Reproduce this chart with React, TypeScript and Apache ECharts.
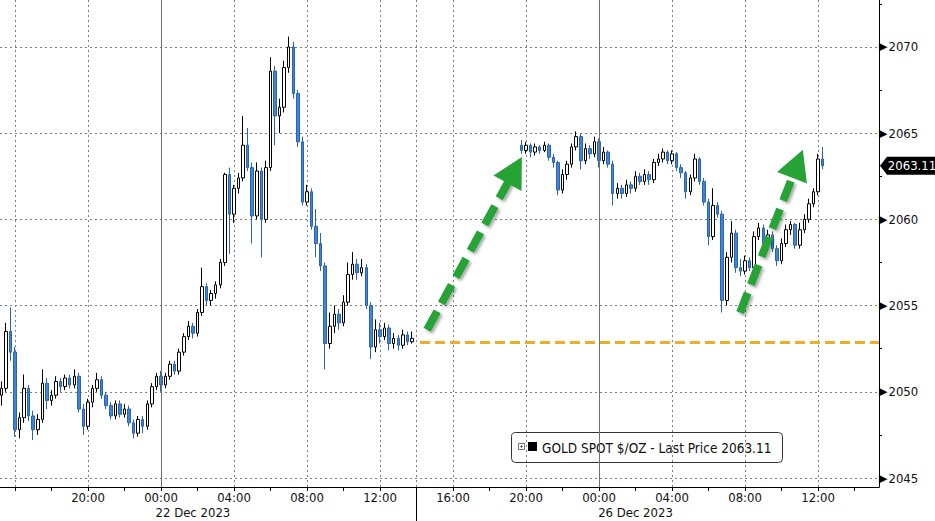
import React, { useEffect, useRef } from "react";
import * as echarts from "echarts";

// ---- time layout (virtual hours from 00:00 22 Dec; 26 Dec session shown after a 3-day jump) ----
const SEG1_START = -8.75; // 15:15 21 Dec
const SEG2_START = 19.75; // 19:45 (day before 26 Dec, after the holiday break)
const BAR_HOURS = 0.25;
const X_MIN = -8.82;
const X_MAX = 39.34;
const Y_MIN = 2044.48;
const Y_MAX = 2072.72;

// [open, high, low, close]
const seg1: number[][] = [
  [2049.8, 2050.6, 2049.2, 2050.2],
  [2050.2, 2054.0, 2050.0, 2053.5],
  [2053.5, 2054.9, 2051.8, 2052.3],
  [2052.3, 2052.6, 2047.4, 2047.8],
  [2047.8, 2048.8, 2047.3, 2048.5],
  [2048.5, 2051.0, 2048.2, 2050.2],
  [2050.2, 2050.4, 2048.3, 2048.6],
  [2048.6, 2048.9, 2047.2, 2047.8],
  [2047.8, 2048.7, 2047.5, 2048.4],
  [2048.4, 2051.3, 2048.2, 2050.5],
  [2050.5, 2050.8, 2049.0, 2049.5],
  [2049.5, 2050.1, 2049.2, 2049.8],
  [2049.8, 2050.9, 2049.6, 2050.6],
  [2050.6, 2050.8, 2050.0, 2050.3],
  [2050.3, 2051.0, 2050.1, 2050.8],
  [2050.8, 2051.0, 2050.2, 2050.4],
  [2050.4, 2051.3, 2050.2, 2050.9],
  [2050.9, 2051.1, 2048.8, 2049.0],
  [2049.0, 2049.3, 2047.5, 2048.0],
  [2048.0, 2049.6, 2047.8, 2049.4],
  [2049.4, 2050.4, 2049.1, 2050.2],
  [2050.2, 2051.1, 2050.0, 2050.7],
  [2050.7, 2050.9, 2049.6, 2049.8],
  [2049.8, 2050.0, 2049.0, 2049.2],
  [2049.2, 2049.4, 2048.4, 2048.6],
  [2048.6, 2049.5, 2048.4, 2049.3],
  [2049.3, 2049.5, 2048.5, 2048.7],
  [2048.7, 2049.3, 2048.5, 2049.0],
  [2049.0, 2049.2, 2048.0, 2048.2],
  [2048.2, 2048.4, 2047.3, 2047.6],
  [2047.6, 2048.6, 2047.4, 2048.4],
  [2048.4, 2048.6, 2047.6, 2048.0],
  [2048.0, 2049.5, 2047.8, 2049.3],
  [2049.3, 2050.5, 2049.1, 2050.3],
  [2050.3, 2051.1, 2050.1, 2050.9],
  [2050.9, 2051.2, 2050.0, 2050.4],
  [2050.4, 2051.1, 2050.2, 2050.9],
  [2050.9, 2051.8, 2050.7, 2051.6],
  [2051.6, 2051.8, 2051.0, 2051.2],
  [2051.2, 2052.5, 2051.0, 2052.3],
  [2052.3, 2053.4, 2052.1, 2053.2],
  [2053.2, 2054.1, 2053.0, 2053.8],
  [2053.8, 2054.0, 2053.1, 2053.4],
  [2053.4, 2054.8, 2053.2, 2054.6],
  [2054.6, 2057.2, 2054.4, 2056.1],
  [2056.1, 2056.3, 2055.0, 2055.3],
  [2055.3, 2055.9, 2055.0, 2055.7],
  [2055.7, 2056.4, 2055.4, 2056.2],
  [2056.2, 2057.7, 2056.0, 2057.5],
  [2057.5, 2062.7, 2057.3, 2062.6],
  [2062.6, 2063.0, 2058.0, 2060.3],
  [2060.3, 2062.0, 2059.8, 2061.8],
  [2061.8, 2062.7, 2061.5, 2062.4],
  [2062.4, 2066.0, 2062.2, 2064.3],
  [2064.3, 2065.3, 2062.8, 2063.0],
  [2063.0, 2063.3, 2058.6, 2060.2],
  [2060.2, 2063.3, 2060.0, 2062.8],
  [2062.8, 2063.0, 2057.8, 2060.0],
  [2060.0, 2063.4, 2059.8, 2063.0],
  [2063.0, 2069.4, 2062.8, 2068.6],
  [2068.6, 2068.9, 2064.3, 2066.0],
  [2066.0, 2067.0, 2065.0, 2066.5],
  [2066.5, 2069.2, 2066.2, 2068.8],
  [2068.8, 2070.6, 2068.5, 2070.0],
  [2070.0, 2070.3, 2067.0, 2067.3],
  [2067.3, 2067.5, 2064.2, 2064.5],
  [2064.5, 2064.8, 2060.8, 2061.0],
  [2061.0, 2062.0, 2060.8, 2061.6],
  [2061.6, 2061.8, 2059.4, 2059.6],
  [2059.6, 2060.6, 2057.8, 2058.6],
  [2058.6, 2059.2, 2057.0, 2057.3],
  [2057.3, 2057.5, 2051.3, 2052.8],
  [2052.8, 2054.6, 2052.5, 2053.8],
  [2053.8, 2055.0, 2053.4, 2054.5],
  [2054.5, 2054.8, 2053.6, 2054.0],
  [2054.0, 2055.6, 2053.8, 2055.2],
  [2055.2, 2057.5, 2055.0, 2056.8],
  [2056.8, 2058.1, 2056.5, 2057.4],
  [2057.4, 2057.7, 2056.5, 2056.9],
  [2056.9, 2057.7, 2056.7, 2057.2],
  [2057.2, 2057.4, 2054.8, 2055.0],
  [2055.0, 2055.2, 2051.9, 2052.6],
  [2052.6, 2054.2, 2052.3, 2053.6],
  [2053.6, 2054.0, 2052.8, 2053.2],
  [2053.2, 2054.0, 2053.0, 2053.7],
  [2053.7, 2053.9, 2052.4, 2052.8],
  [2052.8, 2053.4, 2052.5, 2053.1],
  [2053.1, 2053.3, 2052.4, 2052.7],
  [2052.7, 2053.6, 2052.5, 2053.3],
  [2053.3, 2053.5, 2052.7, 2052.9],
  [2052.9, 2053.5, 2052.8, 2053.1],
];

const seg2: number[][] = [
  [2064.3, 2064.6, 2063.8, 2064.0],
  [2064.0, 2064.5, 2063.8, 2064.3],
  [2064.3, 2064.4, 2063.6, 2063.9],
  [2063.9, 2064.4, 2063.7, 2064.2],
  [2064.2, 2064.3, 2063.8, 2064.0],
  [2064.0, 2064.5, 2063.9, 2064.3],
  [2064.3, 2064.4, 2063.4, 2063.6],
  [2063.6, 2063.8, 2063.0, 2063.3],
  [2063.3, 2063.4, 2061.4, 2061.7],
  [2061.7, 2062.9, 2061.5, 2062.6],
  [2062.6, 2063.4, 2062.3, 2063.2],
  [2063.2, 2064.4, 2063.0, 2064.2],
  [2064.2, 2065.1, 2064.0, 2064.8],
  [2064.8, 2065.0, 2062.9, 2063.4],
  [2063.4, 2064.4, 2063.2, 2064.1],
  [2064.1, 2064.3, 2063.5, 2063.8],
  [2063.8, 2064.8, 2063.6, 2064.5],
  [2064.5, 2064.7, 2063.0, 2063.4],
  [2063.4, 2064.2, 2063.2, 2063.9],
  [2063.9, 2064.0, 2063.0, 2063.2],
  [2063.2, 2063.4, 2060.8, 2061.5],
  [2061.5, 2062.1, 2061.2, 2061.8],
  [2061.8, 2062.0, 2061.2, 2061.5],
  [2061.5, 2062.3, 2061.3, 2062.0],
  [2062.0, 2062.2, 2061.5, 2061.8],
  [2061.8, 2062.8, 2061.6, 2062.5],
  [2062.5, 2062.7, 2062.0, 2062.2],
  [2062.2, 2062.9, 2062.0, 2062.6],
  [2062.6, 2062.8, 2062.0, 2062.3],
  [2062.3, 2063.5, 2062.1, 2063.3],
  [2063.3, 2063.8, 2063.1, 2063.5],
  [2063.5, 2064.1, 2063.3, 2063.9],
  [2063.9, 2064.0, 2063.2, 2063.4],
  [2063.4, 2064.0, 2063.2, 2063.8],
  [2063.8, 2063.9, 2062.8, 2063.0],
  [2063.0, 2063.2, 2062.4, 2062.7],
  [2062.7, 2062.8, 2061.2, 2061.6],
  [2061.6, 2062.6, 2061.4, 2062.4],
  [2062.4, 2063.8, 2062.2, 2063.5],
  [2063.5, 2063.6, 2062.0, 2062.2],
  [2062.2, 2062.4, 2060.8, 2061.0],
  [2061.0, 2061.2, 2058.5, 2059.0],
  [2059.0, 2061.8, 2058.8, 2060.8],
  [2060.8, 2061.0, 2060.1, 2060.3],
  [2060.3, 2060.5, 2054.6, 2055.3],
  [2055.3, 2058.1, 2055.0, 2057.8],
  [2057.8, 2059.9, 2057.5, 2059.2],
  [2059.2, 2059.4, 2056.9, 2057.2],
  [2057.2, 2057.7, 2056.7, 2057.0],
  [2057.0, 2057.9, 2056.8, 2057.6],
  [2057.6, 2057.8, 2057.0, 2057.2],
  [2057.2, 2059.3, 2057.0, 2059.0],
  [2059.0, 2059.8, 2058.8, 2059.5],
  [2059.5, 2059.7, 2058.4, 2058.6],
  [2058.6, 2059.4, 2058.4, 2059.1],
  [2059.1, 2059.3, 2058.1, 2058.3],
  [2058.3, 2058.5, 2057.3, 2057.6],
  [2057.6, 2058.9, 2057.4, 2058.6],
  [2058.6, 2059.7, 2058.4, 2059.4],
  [2059.4, 2059.9, 2059.1, 2059.7],
  [2059.7, 2059.8, 2058.3, 2058.5],
  [2058.5, 2059.8, 2058.3, 2059.4],
  [2059.4, 2060.3, 2059.2, 2060.0],
  [2060.0, 2061.2, 2059.8, 2060.9],
  [2060.9, 2061.8, 2060.7, 2061.6],
  [2061.6, 2063.8, 2061.4, 2063.5],
  [2063.5, 2064.2, 2062.9, 2063.11],
];

// ---- axes ----
const xLabelHours = [-4, 0, 4, 8, 12, 16, 20, 24, 28, 32, 36];
const xGridHours = [-8, -4, 0, 4, 8, 12, 14, 16, 20, 24, 28, 32, 36];
const xMinorTickHours = [-6, -2, 2, 6, 10, 18, 22, 26, 30, 34, 38];
const dayBreakHours = [0, 24];
const sessionBreakHours = [14];
const dateLabelHours = [1.75, 26];
const dateLabelTexts = ["22 Dec 2023", "26 Dec 2023"];
const yTicks = [2045, 2050, 2055, 2060, 2065, 2070];
const yMinorTicks = [2047.5, 2052.5, 2057.5, 2062.5, 2067.5, 2072.5];

// ---- annotations ----
const seriesName = "GOLD SPOT $/OZ";
const lastPrice = 2063.11;
const prevClose = 2052.9;
const prevCloseFrom = 14.19;
const arrows: number[][][] = [
  [[14.58, 2053.6], [19.38, 2062.86]],
  [[31.73, 2054.59], [34.87, 2063.22]],
];

const FONT =
  "'Liberation Sans Narrow', 'Arial Narrow', 'DejaVu Sans Condensed', 'Liberation Sans', sans-serif";

export default function App() {
  const ref = useRef<HTMLDivElement>(null);

  useEffect(() => {
    if (!ref.current) return;
    const chart = echarts.init(ref.current, undefined, { renderer: "svg" });

    const candleData = [
      ...seg1.map((r, i) => [SEG1_START + i * BAR_HOURS, r[0], r[3], r[2], r[1]]),
      ...seg2.map((r, i) => [SEG2_START + i * BAR_HOURS, r[0], r[3], r[2], r[1]]),
    ];

    const hourLabel = (v: number) => {
      const h = ((Math.round(v) % 24) + 24) % 24;
      return (h < 10 ? "0" : "") + h + ":00";
    };

    const baseX = {
      type: "value" as const,
      gridIndex: 0,
      min: X_MIN,
      max: X_MAX,
      position: "bottom" as const,
    };

    const option: any = {
      animation: false,
      backgroundColor: "#ffffff",
      grid: {
        left: 0,
        right: 56,
        top: 0,
        bottom: 34,
        outerBoundsMode: "none",
        containLabel: false,
      },
      xAxis: [
        {
          ...baseX,
          axisLine: { show: true, onZero: false, lineStyle: { color: "#000", width: 1 } },
          axisTick: {
            show: true,
            customValues: xGridHours,
            length: 4,
            lineStyle: { color: "#000" },
          },
          axisLabel: {
            show: true,
            customValues: xLabelHours,
            formatter: hourLabel,
            fontFamily: FONT,
            fontSize: 13,
            color: "#111",
            margin: 4,
          },
          splitLine: {
            show: true,
            lineStyle: { color: "#7f7f7f", type: [2, 3], width: 1 },
          },
        },
        {
          ...baseX,
          axisLine: { show: false, onZero: false },
          axisTick: {
            show: true,
            customValues: xMinorTickHours,
            length: 4,
            lineStyle: { color: "#000" },
          },
          axisLabel: { show: false },
          splitLine: { show: false },
        },
        {
          ...baseX,
          axisLine: { show: false, onZero: false },
          axisTick: {
            show: true,
            customValues: sessionBreakHours,
            length: 34,
            lineStyle: { color: "#000" },
          },
          axisLabel: { show: false },
          splitLine: { show: false },
        },
        {
          ...baseX,
          offset: 15,
          axisLine: { show: false, onZero: false },
          axisTick: { show: false },
          axisLabel: {
            show: true,
            customValues: dateLabelHours,
            formatter: (v: number) => {
              const k = dateLabelHours.findIndex((d) => Math.abs(d - v) < 0.01);
              return k >= 0 ? dateLabelTexts[k] : "";
            },
            fontFamily: FONT,
            fontSize: 13,
            color: "#111",
            margin: 4,
          },
          splitLine: { show: false },
        },
      ],
      yAxis: [
        {
          type: "value",
          position: "right",
          min: Y_MIN,
          max: Y_MAX,
          axisLine: { show: true, onZero: false, lineStyle: { color: "#000", width: 1 } },
          axisTick: { show: false, customValues: yTicks },
          axisLabel: {
            show: true,
            customValues: yTicks,
            margin: 0,
            formatter: (v: number) => "{t|▶}{v|" + v + "}",
            rich: {
              t: { fontSize: 11, color: "#000", fontFamily: "DejaVu Sans", padding: [0, 1, 0, 0] },
              v: { fontSize: 13, color: "#111", fontFamily: FONT },
            },
          },
          splitLine: {
            show: true,
            lineStyle: { color: "#7f7f7f", type: [2, 3], width: 1 },
          },
        },
        {
          type: "value",
          position: "right",
          min: Y_MIN,
          max: Y_MAX,
          axisLine: { show: false, onZero: false },
          axisTick: {
            show: true,
            customValues: yMinorTicks,
            length: 3,
            lineStyle: { color: "#000" },
          },
          axisLabel: { show: false },
          splitLine: { show: false },
        },
      ],
      series: [
        {
          type: "candlestick",
          name: seriesName,
          xAxisIndex: 0,
          yAxisIndex: 0,
          data: candleData,
          encode: { x: 0, y: [1, 2, 3, 4] },
          barWidth: 3,
          itemStyle: {
            color: "#ffffff",
            borderColor: "#000000",
            color0: "#3d86d8",
            borderColor0: "#2a63b2",
            borderWidth: 1,
          },
          markLine: {
            silent: true,
            symbol: ["none", "none"],
            label: { show: false },
            data: [
              ...dayBreakHours.map((h) => ({
                xAxis: h,
                lineStyle: { color: "#6f6f6f", width: 1, type: "solid" },
              })),
              [
                {
                  coord: [prevCloseFrom, prevClose],
                  lineStyle: { color: "#efac26", width: 3, type: [10, 5] },
                },
                { coord: [X_MAX, prevClose] },
              ],
            ],
          },
          markPoint: {
            silent: true,
            data: [
              {
                coord: [X_MAX, lastPrice],
                symbol: "path://M0,9L7,0L58,0L58,18L7,18Z",
                symbolSize: [58, 18],
                symbolKeepAspect: false,
                symbolOffset: [30, 0],
                itemStyle: { color: "#000" },
                label: {
                  show: true,
                  position: "inside",
                  offset: [3, 0],
                  formatter: lastPrice.toFixed(2),
                  color: "#fff",
                  fontSize: 13,
                  fontFamily: FONT,
                },
              },
            ],
          },
        },
        {
          type: "line",
          name: "arrows",
          xAxisIndex: 0,
          yAxisIndex: 0,
          data: [],
          markLine: {
            silent: true,
            symbol: ["none", "triangle"],
            symbolSize: [32, 30],
            label: { show: false },
            lineStyle: {
              color: "#27a336",
              width: 8,
              type: [21, 9],
              shadowBlur: 3,
              shadowColor: "rgba(0,0,0,0.35)",
              shadowOffsetX: 2,
              shadowOffsetY: 2,
            },
            data: arrows.map((a) => [{ coord: a[0] }, { coord: a[1] }]),
          },
        },
      ],
      graphic: [
        {
          type: "group",
          left: 511,
          top: 432,
          children: [
            {
              type: "rect",
              shape: { x: 0.5, y: 0.5, width: 271, height: 30, r: 4 },
              style: { fill: "#fff", stroke: "#333", lineWidth: 1 },
            },
            {
              type: "rect",
              shape: { x: 7.5, y: 11.5, width: 6, height: 6 },
              style: { fill: "#fff", stroke: "#777", lineWidth: 1 },
            },
            {
              type: "line",
              shape: { x1: 9, y1: 14.5, x2: 12, y2: 14.5 },
              style: { stroke: "#777", lineWidth: 1 },
            },
            {
              type: "line",
              shape: { x1: 10.5, y1: 13, x2: 10.5, y2: 16 },
              style: { stroke: "#777", lineWidth: 1 },
            },
            {
              type: "rect",
              shape: { x: 17, y: 10, width: 9, height: 9 },
              style: { fill: "#000" },
            },
            {
              type: "text",
              x: 31,
              y: 15.5,
              style: {
                text: seriesName + " - Last Price " + lastPrice.toFixed(2),
                fontSize: 13.5,
                fontFamily: FONT,
                fill: "#111",
                verticalAlign: "middle",
              },
            },
          ],
        },
      ],
    };

    chart.setOption(option);
    return () => chart.dispose();
  }, []);

  return (
    <div
      ref={ref}
      style={{ position: "fixed", left: 0, top: 0, width: 935, height: 521, background: "#fff" }}
    />
  );
}
